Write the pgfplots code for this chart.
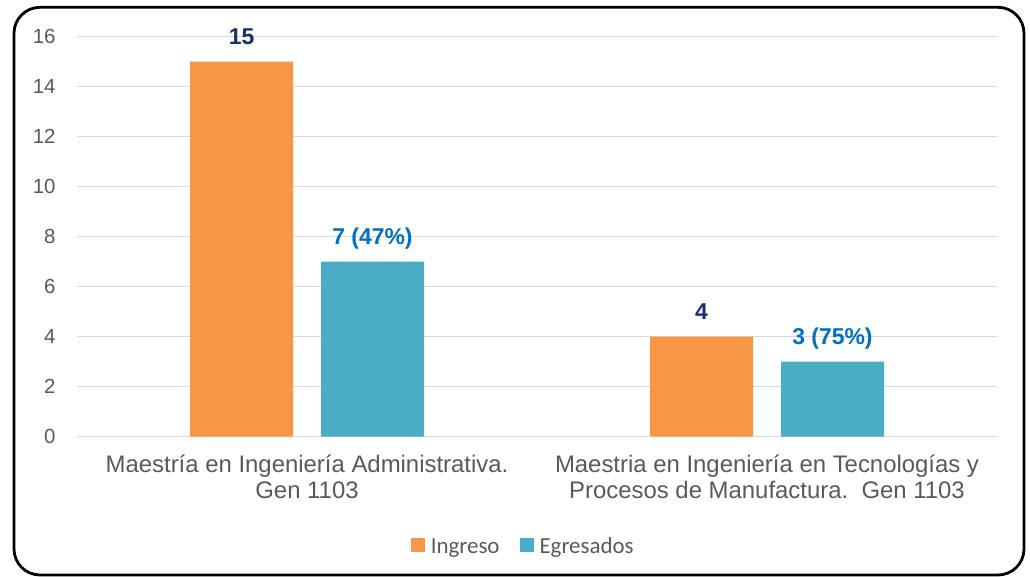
\documentclass[border=0pt]{standalone}
\usepackage{pgfplots}
\pgfplotsset{compat=1.18}
\usepackage{fontspec}
\setmainfont{Liberation Sans}
\newfontfamily\calibri{Carlito}
\definecolor{barorange}{HTML}{F79646}
\definecolor{barteal}{HTML}{4BACC6}
\definecolor{txtgray}{HTML}{595959}
\definecolor{gridgray}{HTML}{D9D9D9}
\definecolor{lblnavy}{HTML}{17306B}
\definecolor{lblblue}{HTML}{0070C0}
\begin{document}
\begin{tikzpicture}[x=1bp,y=1bp]
\useasboundingbox (0,0) rectangle (1030,577);
\draw[line width=2.8bp, rounded corners=26bp] (14,2) rectangle (1024,569.7);
\begin{axis}[
  at={(77bp,140.3bp)}, anchor=south west,
  scale only axis, width=920bp, height=400bp,
  xmin=-0.5, xmax=1.5, ymin=0, ymax=16,
  ytick={0,2,...,16},
  xtick={0,1},
  xticklabels={{Maestría en Ingeniería Administrativa.\\Gen 1103},{Maestria en Ingeniería en Tecnologías y\\Procesos de Manufactura.\ \ Gen 1103}},
  xticklabel style={align=center, font=\fontsize{24}{26}\selectfont, text=txtgray, yshift=-15bp},
  yticklabel style={font=\fontsize{20.5}{24}\selectfont, text=txtgray, xshift=-18bp},
  /pgf/number format/assume math mode=true,
  ymajorgrids, grid style={draw=gridgray, line width=1.3bp},
  axis line style={draw=none},
  major tick length=0pt,
  ybar, bar width=103bp,
  point meta=explicit symbolic,
  nodes near coords,
  every node near coord/.append style={font=\bfseries\fontsize{23}{26}\selectfont, anchor=base, yshift=16.7bp},
  legend style={at={(0.485,-0.271)}, anchor=center, draw=none, fill=none,
    legend columns=2, font=\calibri\fontsize{23}{26}\selectfont, text=txtgray,
    /tikz/every even column/.append style={column sep=18bp},
    legend cell align=left},
  legend image code/.code={\fill[#1,draw=none] (0bp,-7bp) rectangle (14bp,7bp);},
]
\addplot[fill=barorange, draw=none, bar shift=-65.5bp, every node near coord/.append style={text=lblnavy}]
  coordinates {(0,15) [15] (1,4) [4]};
\addlegendentry{\hspace{4bp}Ingreso\strut}
\addplot[fill=barteal, draw=none, bar shift=65.5bp, every node near coord/.append style={text=lblblue}]
  coordinates {(0,7) [7 (47\%)] (1,3) [3 (75\%)]};
\addlegendentry{\hspace{4bp}Egresados\strut}
\end{axis}
\end{tikzpicture}
\end{document}
